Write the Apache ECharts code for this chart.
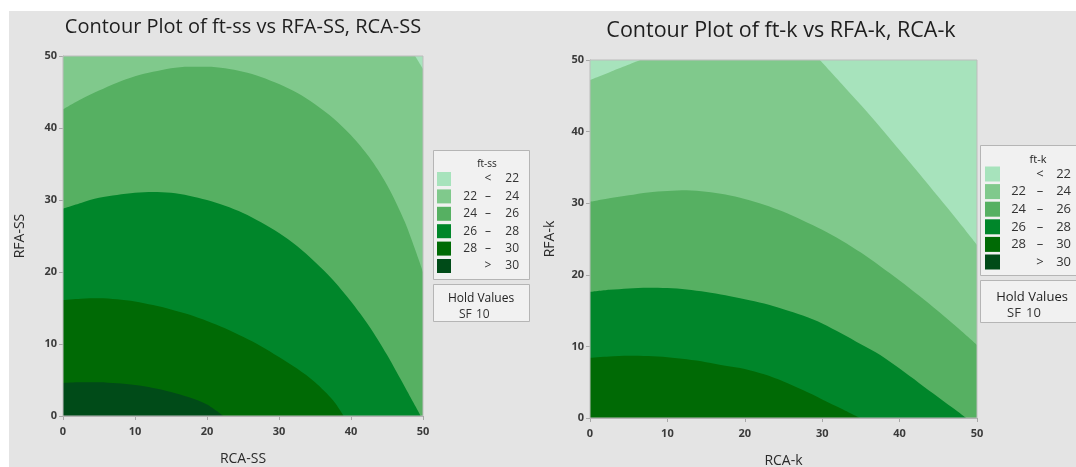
<!DOCTYPE html>
<html>
<head>
<meta charset="utf-8">
<script src="https://cdn.jsdelivr.net/npm/echarts@6/dist/echarts.min.js"></script>
<style>
  html, body { margin: 0; padding: 0; background: #ffffff; }
  #panel { position: absolute; left: 9px; top: 11px; width: 1067px; height: 456px; background: #e4e4e4; }
  #chart { position: absolute; left: 0; top: 0; width: 1076px; height: 467px; }
</style>
</head>
<body>
<div id="panel"></div>
<div id="chart"></div>
<script>
// Contour levels and fill colours (light -> dark)
const levelLo = [null, 22, 24, 26, 28, 30];
const levelHi = [22, 24, 26, 28, 30, null];
const bandColors = ['#a7e3bc', '#80c98c', '#56b062', '#00862a', '#006a05', '#004b18'];
const axisTicks = [0, 10, 20, 30, 40, 50];

// ft-ss vs RFA-SS (y), RCA-SS (x): contour boundary lines [RCA, RFA]
const ssBase = [[0, 50], [50, 50]];                      // 22-24 band covers the rest
const ssEdge22 = [[48.9, 50], [50, 48.2]];               // < 22 corner (above line)
const ssEdge24 = [[0, 42.6], [2.5, 44.0], [5, 45.2], [7.5, 46.3], [10, 47.2], [12.5, 47.8], [15, 48.3], [17.5, 48.5], [20, 48.5], [22.5, 48.3], [25, 47.8], [27.5, 47.1], [30, 46.1], [32.5, 44.9], [35, 43.3], [37.5, 41.4], [40, 39.0], [42.5, 36.0], [45, 32.1], [47.5, 26.9], [50, 20.0]];
const ssEdge26 = [[0, 28.8], [2.5, 29.6], [5, 30.3], [7.5, 30.7], [10, 31.0], [12.5, 31.1], [15, 31.0], [17.5, 30.6], [20, 30.0], [22.5, 29.2], [25, 28.2], [27.5, 26.9], [30, 25.4], [32.5, 23.6], [35, 21.4], [37.5, 18.9], [40, 15.9], [42.5, 12.5], [45, 8.5], [47.5, 4.0], [49.7, 0]];
const ssEdge28 = [[0, 16.1], [2.5, 16.3], [5, 16.35], [7.5, 16.2], [10, 15.9], [12.5, 15.4], [15, 14.8], [17.5, 14.1], [20, 13.2], [22.5, 12.2], [25, 11.0], [27.5, 9.7], [30, 8.2], [32.5, 6.6], [35, 4.7], [37.5, 2.2], [39, 0]];
const ssEdge30 = [[0, 4.6], [2.5, 4.7], [5, 4.7], [7.5, 4.55], [10, 4.3], [12.5, 3.9], [15, 3.35], [17.5, 2.6], [20, 1.6], [22.3, 0]];

// ft-k vs RFA-k (y), RCA-k (x)
const kBase = [[0, 50], [50, 50]];
const kEdge22a = [[0, 47.2], [3, 48.5], [6.5, 50]];      // < 22 top-left corner (above line)
const kEdge22b = [[29.7, 50], [32.5, 46.7], [35, 43.7], [37.5, 40.6], [40, 37.4], [42.5, 34.2], [45, 30.9], [47.5, 27.6], [50, 24.2]]; // < 22 top-right (above line)
const kEdge24 = [[0, 30.2], [2.5, 30.7], [5, 31.1], [7.5, 31.5], [10, 31.7], [12.5, 31.8], [15, 31.6], [17.5, 31.2], [20, 30.6], [22.5, 29.8], [25, 28.8], [27.5, 27.6], [30, 26.3], [32.5, 24.8], [35, 23.1], [37.5, 21.2], [40, 19.2], [42.5, 17.1], [45, 14.9], [47.5, 12.6], [50, 10.2]];
const kEdge26 = [[0, 17.6], [2.5, 17.9], [5, 18.1], [7.5, 18.2], [10, 18.15], [12.5, 17.95], [15, 17.6], [17.5, 17.15], [20, 16.6], [22.5, 16.0], [25, 15.2], [27.5, 14.3], [30, 13.2], [32.5, 11.8], [35, 10.3], [37.5, 8.8], [40, 6.9], [42.5, 4.9], [45, 2.9], [47.5, 0.9], [48.6, 0]];
const kEdge28 = [[0, 8.4], [2.5, 8.6], [5, 8.7], [7.5, 8.65], [10, 8.5], [12.5, 8.2], [15, 7.8], [17.5, 7.3], [20, 6.85], [22.5, 6.1], [25, 5.1], [27.5, 3.9], [30, 2.6], [32.5, 1.3], [34.9, 0]];

const FONT = '"Open Sans", "Noto Sans", sans-serif';

function band(gi, data, color, origin) {
  return {
    type: 'line', xAxisIndex: gi, yAxisIndex: gi, data: data,
    smooth: 0.3, showSymbol: false, silent: true,
    lineStyle: { width: 0 },
    areaStyle: { color: color, opacity: 1, origin: origin || 'start' }
  };
}

function axisDef(gi, name, gap, margin) {
  return {
    type: 'value', gridIndex: gi, min: 0, max: 50, interval: 10,
    name: name, nameLocation: 'middle', nameGap: gap,
    nameTextStyle: { fontFamily: FONT, fontSize: 14, color: '#2a2a2a' },
    axisLine: { show: true, lineStyle: { color: '#a8a8a8' } },
    axisTick: { show: true, length: 4, lineStyle: { color: '#a8a8a8' } },
    axisLabel: { fontFamily: FONT, fontSize: 11, fontWeight: 'bold', color: '#3a3a3a', margin: margin,
      formatter: v => axisTicks.includes(v) ? String(v) : '' },
    splitLine: { show: false }
  };
}

function txt(x, y, s, align, fs, fill, weight) {
  return { type: 'text', x: x, y: y, silent: true,
    style: { text: s, fill: fill || '#333333', fontSize: fs, fontFamily: FONT, fontWeight: weight || 'normal',
      align: align, textAlign: align, verticalAlign: 'middle', textVerticalAlign: 'middle' } };
}

function legendGraphics(c) {
  const els = [];
  els.push({ type: 'rect', shape: { x: c.box[0] + 0.5, y: c.box[1] + 0.5, width: c.box[2], height: c.box[3] },
    style: { fill: '#f1f1f1', stroke: '#b5b5b5', lineWidth: 1 } });
  els.push(txt(c.titleX, c.titleY, c.title, 'center', c.fs - 2, '#222222'));
  bandColors.forEach((col, i) => {
    const y = c.rowY0 + i * c.rowStep;
    els.push({ type: 'rect', shape: { x: c.swX, y: y - c.sw / 2, width: c.sw, height: c.sw },
      style: { fill: col } });
    if (levelLo[i] === null) {
      els.push(txt(c.dashX, y, '<', 'center', c.fs));
      els.push(txt(c.colB, y, String(levelHi[i]), 'right', c.fs));
    } else if (levelHi[i] === null) {
      els.push(txt(c.dashX, y, '>', 'center', c.fs));
      els.push(txt(c.colB, y, String(levelLo[i]), 'right', c.fs));
    } else {
      els.push(txt(c.colA, y, String(levelLo[i]), 'right', c.fs));
      els.push(txt(c.dashX, y, '–', 'center', c.fs));
      els.push(txt(c.colB, y, String(levelHi[i]), 'right', c.fs));
    }
  });
  els.push({ type: 'rect', shape: { x: c.hold[0] + 0.5, y: c.hold[1] + 0.5, width: c.hold[2], height: c.hold[3] },
    style: { fill: '#f1f1f1', stroke: '#b5b5b5', lineWidth: 1 } });
  els.push(txt(c.holdX, c.holdY, 'Hold Values', 'center', c.fs, '#222222'));
  els.push(txt(c.sfX, c.holdY + 16, 'SF', 'left', c.fs));
  els.push(txt(c.sfValX, c.holdY + 16, '10', 'left', c.fs));
  return els;
}

const graphics = [
  txt(243, 27, 'Contour Plot of ft-ss vs RFA-SS, RCA-SS', 'center', 20, '#1e1e1e'),
  txt(781, 31, 'Contour Plot of ft-k vs RFA-k, RCA-k', 'center', 21.5, '#1e1e1e')
].concat(legendGraphics({
  box: [433, 150, 96, 129], title: 'ft-ss', titleX: 487, titleY: 164,
  swX: 437, sw: 14, rowY0: 179, rowStep: 17.4, colA: 477, dashX: 488, colB: 519, fs: 12,
  hold: [433, 284, 96, 37], holdX: 481, holdY: 299, sfX: 459, sfValX: 476
})).concat(legendGraphics({
  box: [980, 145, 110, 130], title: 'ft-k', titleX: 1038, titleY: 160,
  swX: 985, sw: 15, rowY0: 174, rowStep: 17.6, colA: 1026, dashX: 1040, colB: 1071, fs: 13,
  hold: [980, 280, 110, 42], holdX: 1032, holdY: 297, sfX: 1007, sfValX: 1026
}));

const chart = echarts.init(document.getElementById('chart'), null, { renderer: 'canvas' });
chart.setOption({
  backgroundColor: 'transparent',
  animation: false,
  grid: [
    { left: 63, top: 56, width: 360, height: 360, outerBoundsMode: 'none', containLabel: false,
      show: true, borderColor: '#bdbdbd', borderWidth: 1, backgroundColor: 'transparent', z: 5 },
    { left: 590, top: 60, width: 387, height: 358, outerBoundsMode: 'none', containLabel: false,
      show: true, borderColor: '#bdbdbd', borderWidth: 1, backgroundColor: 'transparent', z: 5 }
  ],
  xAxis: [axisDef(0, 'RCA-SS', 36, 10), axisDef(1, 'RCA-k', 36, 10)],
  yAxis: [axisDef(0, 'RFA-SS', 36, 6), axisDef(1, 'RFA-k', 33, 6)],
  series: [
    band(0, ssBase, bandColors[1]),
    band(0, ssEdge22, bandColors[0], 'end'),
    band(0, ssEdge24, bandColors[2]),
    band(0, ssEdge26, bandColors[3]),
    band(0, ssEdge28, bandColors[4]),
    band(0, ssEdge30, bandColors[5]),
    band(1, kBase, bandColors[1]),
    band(1, kEdge22a, bandColors[0], 'end'),
    band(1, kEdge22b, bandColors[0], 'end'),
    band(1, kEdge24, bandColors[2]),
    band(1, kEdge26, bandColors[3]),
    band(1, kEdge28, bandColors[4])
  ],
  graphic: graphics
});
</script>
</body>
</html>
